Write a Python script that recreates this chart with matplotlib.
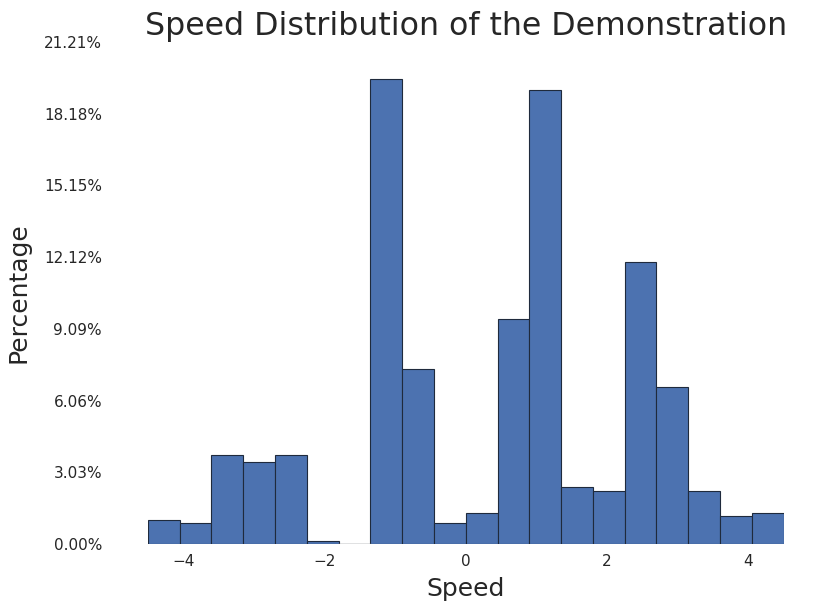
import numpy as np
import matplotlib
matplotlib.use("Agg")
import matplotlib.pyplot as plt
from matplotlib.ticker import FuncFormatter

bin_edges = np.linspace(-4.5, 4.5, 21)
percentages = [1.01, 0.89, 3.76, 3.47, 3.76, 0.13, 0.0, 19.65, 7.40, 0.89,
               1.31, 9.51, 19.19, 2.41, 2.24, 11.92, 6.63, 2.24, 1.18, 1.31]
ytick_vals = [0.0, 3.0303, 6.0606, 9.0909, 12.1212, 15.1515, 18.1818, 21.2121]
xtick_vals = [-4, -2, 0, 2, 4]

plt.rcParams['font.family'] = ['DejaVu Sans']
fig = plt.figure(figsize=(8.31, 6.15), dpi=100)
ax = fig.add_axes([0.178, 0.1154, 0.765, 0.8163])

widths = np.diff(bin_edges)
ax.bar(bin_edges[:-1], percentages, width=widths, align='edge',
       color='#4C72B0', edgecolor='#1f2a3c', linewidth=0.8)
ax.plot([bin_edges[6], bin_edges[7]], [0, 0], color='#999999', lw=1.0)

ax.set_xlim(-4.5, 4.5)
ax.set_ylim(0, 21.2121)
ax.set_yticks(ytick_vals)
ax.yaxis.set_major_formatter(FuncFormatter(lambda v, p: f"{v:.2f}%"))
ax.set_xticks(xtick_vals)
ax.set_xticklabels([f"{t}".replace('-', '\u2212') for t in xtick_vals])

for s in ax.spines.values():
    s.set_visible(False)
ax.tick_params(axis='both', length=0, labelsize=11, labelcolor='#262626')
ax.tick_params(axis='y', pad=33)
ax.tick_params(axis='x', pad=7)

ax.set_xlabel('Speed', fontsize=18, color='#262626', labelpad=6)
ax.set_ylabel('Percentage', fontsize=18, color='#262626', labelpad=10)
ax.set_title('Speed Distribution of the Demonstration', fontsize=22.8,
             color='#262626', pad=5)

fig.savefig('out.png', dpi=100, facecolor='white')
